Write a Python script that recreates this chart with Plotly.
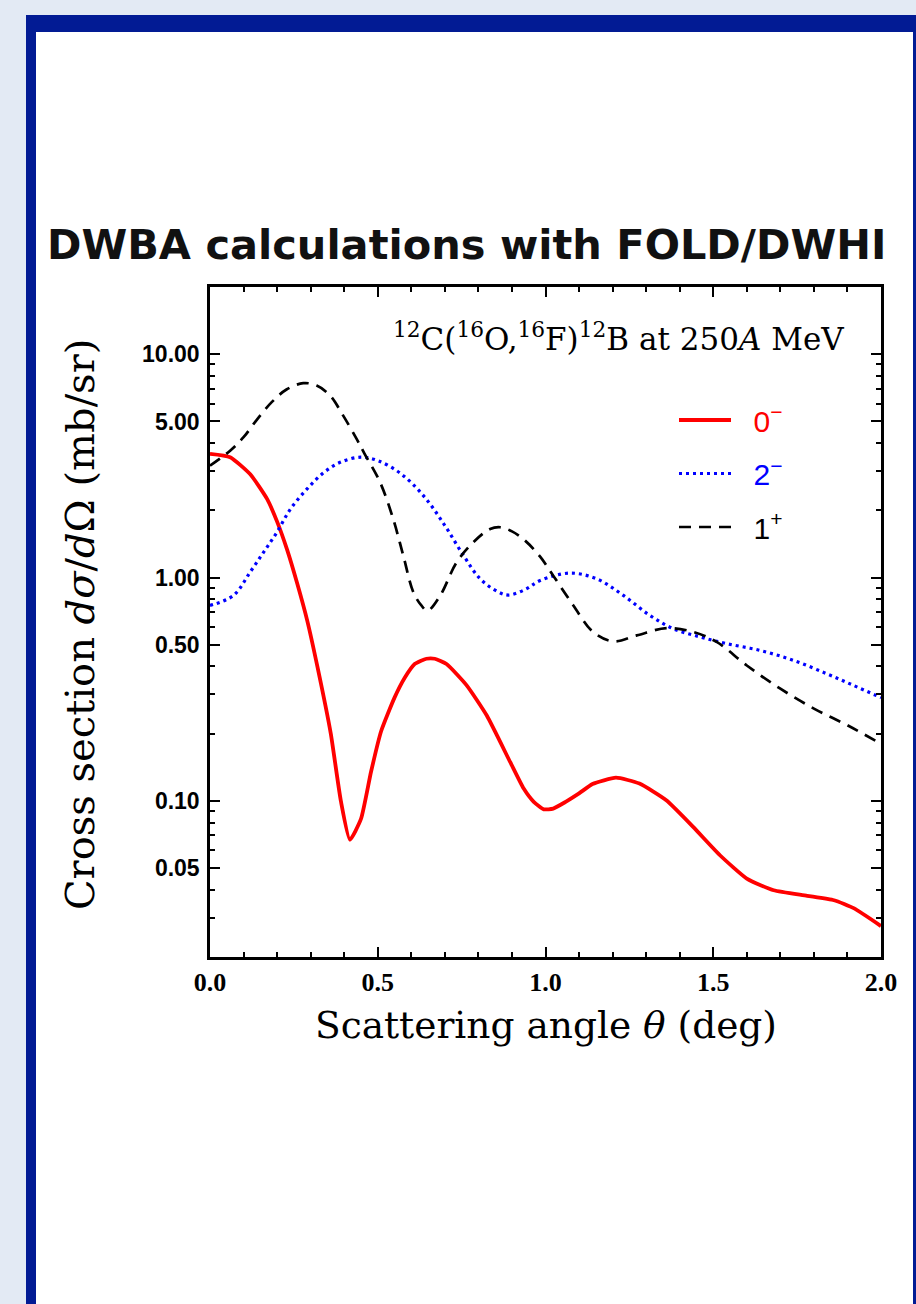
import math
import plotly.graph_objects as go

# ---------------- data ----------------
theta_0m = [0.00, 0.06, 0.12, 0.17, 0.20, 0.23, 0.26, 0.29, 0.32, 0.36, 0.39, 0.417,
            0.45, 0.48, 0.51, 0.55, 0.58, 0.61, 0.645, 0.67, 0.705, 0.765, 0.825,
            0.895, 0.935, 0.965, 0.995, 1.023, 1.06, 1.10, 1.14, 1.21, 1.28, 1.36,
            1.44, 1.52, 1.60, 1.68, 1.78, 1.86, 1.92, 2.00]
xs_0m = [3.58, 3.46, 2.90, 2.25, 1.78, 1.33, 0.94, 0.64, 0.40, 0.20, 0.100, 0.067,
         0.083, 0.135, 0.205, 0.29, 0.355, 0.41, 0.433, 0.433, 0.41, 0.329, 0.241,
         0.149, 0.1135, 0.099, 0.0917, 0.0924, 0.099, 0.108, 0.119, 0.127, 0.1195, 0.1006,
         0.0765, 0.0571, 0.0449, 0.0398, 0.0376, 0.0359, 0.033, 0.0275]

theta_2m = [0.00, 0.07, 0.12, 0.16, 0.20, 0.24, 0.29, 0.34, 0.39, 0.45, 0.50, 0.57,
            0.64, 0.70, 0.755, 0.805, 0.86, 0.89, 0.94, 0.984, 1.073, 1.152, 1.232,
            1.311, 1.381, 1.461, 1.540, 1.639, 1.739, 1.838, 1.918, 2.00]
xs_2m = [0.75, 0.832, 1.06, 1.30, 1.60, 2.03, 2.50, 2.96, 3.29, 3.46, 3.34, 2.91,
         2.29, 1.71, 1.26, 0.988, 0.861, 0.835, 0.885, 0.97, 1.047, 0.988, 0.832,
         0.677, 0.590, 0.542, 0.506, 0.472, 0.426, 0.371, 0.329, 0.29]

theta_1p = [0.00, 0.06, 0.10, 0.14, 0.184, 0.228, 0.278, 0.318, 0.358, 0.397, 0.437,
            0.46, 0.507, 0.546, 0.576, 0.606, 0.630, 0.648, 0.686, 0.735, 0.785, 0.835,
            0.865, 0.90, 0.94, 0.984, 1.023, 1.083, 1.142, 1.202, 1.272, 1.361, 1.441,
            1.510, 1.60, 1.70, 1.80, 1.90, 2.00]
xs_1p = [3.17, 3.70, 4.25, 5.10, 6.10, 6.95, 7.42, 7.24, 6.53, 5.31, 4.18,
         3.6, 2.67, 1.83, 1.256, 0.861, 0.75, 0.71, 0.83, 1.17, 1.44, 1.65,
         1.68, 1.61, 1.46, 1.24, 1.02, 0.75, 0.570, 0.518, 0.551, 0.594, 0.570,
         0.515, 0.404, 0.318, 0.259, 0.218, 0.180]

y_tickvals = [0.05, 0.1, 0.5, 1, 5, 10]
y_ticktext = ["0.05", "0.10", "0.50", "1.00", "5.00", "10.00"]
x_tickvals = [0.0, 0.5, 1.0, 1.5, 2.0]
x_ticktext = ["0.0", "0.5", "1.0", "1.5", "2.0"]
y_minor = [m * 10 ** e for e in (-2, -1, 0, 1) for m in range(2, 10) if m * 10 ** e <= 20]

# ---------------- geometry ----------------
W, H = 916, 1304
L, R, T, B = 210, 881, 287, 957


def pxx(x):
    return (x - L) / (R - L)


def pyy(y):
    return (B - y) / (B - T)


GAP = "\u2002\u200a"

fig = go.Figure()
fig.add_trace(go.Scatter(
    x=theta_0m, y=xs_0m, mode="lines", legendgroup="a", line_shape="spline",
    name=GAP + "<span style='color:#ff0000'>0<sup>−</sup></span>",
    line=dict(color="#ff0000", width=3.8, smoothing=0.5)))
fig.add_trace(go.Scatter(
    x=theta_2m, y=xs_2m, mode="lines", legendgroup="b", line_shape="spline",
    name=GAP + "<span style='color:#0000ff'>2<sup>−</sup></span>",
    line=dict(color="#0000ff", width=3.2, dash="3px,4px")))
fig.add_trace(go.Scatter(
    x=theta_1p, y=xs_1p, mode="lines", legendgroup="c", line_shape="spline",
    name=GAP + "<span style='color:#000000'>1<sup>+</sup></span>",
    line=dict(color="#000000", width=2.7, dash="12px,8px")))

# background frame
shapes = [
    dict(type="rect", xref="paper", yref="paper", layer="below",
         x0=pxx(26), x1=pxx(920), y0=pyy(15), y1=pyy(1310),
         fillcolor="#021b94", line=dict(width=0)),
    dict(type="rect", xref="paper", yref="paper", layer="below",
         x0=pxx(36), x1=pxx(913), y0=pyy(32), y1=pyy(1310),
         fillcolor="#ffffff", line=dict(width=0)),
]

annotations = [
    dict(text="DWBA calculations with FOLD/DWHI", xref="paper", yref="paper",
         x=pxx(466), y=pyy(244), xanchor="center", yanchor="middle", showarrow=False,
         font=dict(family="DejaVu Sans, sans-serif", size=41.5, color="#111111",
                   weight="bold")),
    dict(text="<sup>12</sup>C(<sup>16</sup>O,<sup>16</sup>F)<sup>12</sup>B at 250<i>A</i> MeV",
         xref="paper", yref="paper", x=pxx(846), y=pyy(337), xanchor="right",
         yanchor="middle", showarrow=False,
         font=dict(family="DejaVu Serif, serif", size=31, color="black")),
    dict(text="Scattering angle <i>θ</i> (deg)", xref="paper", yref="paper",
         x=pxx(546), y=pyy(1025), xanchor="center", yanchor="middle", showarrow=False,
         font=dict(family="DejaVu Serif, serif", size=37.5, color="black")),
    dict(text="Cross section <i>dσ</i>/<i>d</i>Ω (mb/sr)", xref="paper", yref="paper",
         x=pxx(80), y=pyy(625), xanchor="center", yanchor="middle", showarrow=False,
         textangle=-90,
         font=dict(family="DejaVu Serif, serif", size=40, color="black")),
]

fig.update_layout(
    width=W, height=H, autosize=False,
    margin=dict(l=L, r=W - R, t=T, b=H - B, pad=0),
    paper_bgcolor="#e3eaf4", plot_bgcolor="#ffffff",
    shapes=shapes, annotations=annotations,
    showlegend=True,
    legend=dict(x=pxx(674), y=pyy(394), xanchor="left", yanchor="top",
                bgcolor="rgba(0,0,0,0)", itemwidth=52, tracegroupgap=11.5,
                traceorder="grouped",
                font=dict(family="Liberation Sans, Arial, sans-serif", size=30)),
)

fig.update_xaxes(
    range=[0, 2], showgrid=False, zeroline=False, showline=True, linecolor="black",
    linewidth=2.5, mirror="allticks", ticks="inside", ticklen=10, tickwidth=2,
    tickcolor="black", tickvals=x_tickvals, ticktext=x_ticktext,
    tickfont=dict(family="Liberation Serif, serif", size=26, color="black", weight="bold"),
    minor=dict(ticks="inside", ticklen=5, tickwidth=2, tickcolor="black", dtick=0.1,
               showgrid=False),
)
fig.update_yaxes(
    type="log", range=[math.log10(0.02), math.log10(20)], showgrid=False, zeroline=False,
    showline=True, linecolor="black", linewidth=2.5, mirror="allticks", ticks="inside",
    ticklen=10, tickwidth=2, tickcolor="black", tickvals=y_tickvals, ticktext=y_ticktext,
    ticklabelstandoff=3,
    tickfont=dict(family="Liberation Sans, Arial, sans-serif", size=23, color="black",
                  weight="bold"),
    minor=dict(ticks="inside", ticklen=5, tickwidth=2, tickcolor="black",
               tickvals=y_minor, showgrid=False),
)

fig.write_html("out.html")
